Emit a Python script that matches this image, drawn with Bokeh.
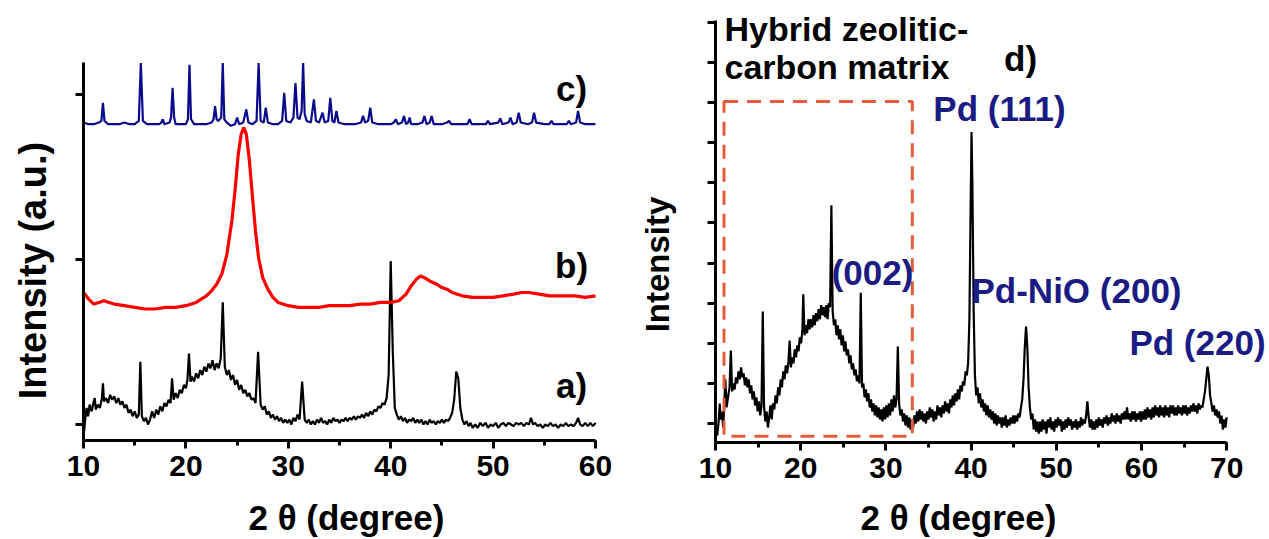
import math
from bokeh.plotting import figure
from bokeh.layouts import row
from bokeh.models import Range1d, Label, SingleIntervalTicker, FixedTicker, BoxAnnotation, LinearAxis
from bokeh.embed import file_html
from bokeh.resources import INLINE

FONT = "Liberation Sans"
NAVY = "#1B1B84"

# ---------------- data (2theta, intensity) ----------------
# left panel, curve a) (black)
curve_a = [
    (10.0, -0.08), (10.15, 0.02), (10.3, 0.10), (10.45, 0.05), (10.6, 0.12), (10.8, 0.08), (11.0, 0.14),
    (11.1, 0.16), (11.2, 0.09), (11.4, 0.12), (11.6, 0.10), (11.8, 0.16), (11.9, 0.25), (12.0, 0.14),
    (12.2, 0.16), (12.4, 0.13), (12.6, 0.18), (12.8, 0.15), (13.0, 0.17), (13.2, 0.13), (13.4, 0.16),
    (13.6, 0.12), (13.8, 0.14), (14.0, 0.10), (14.2, 0.12), (14.4, 0.07), (14.6, 0.09), (14.8, 0.05),
    (15.0, 0.08), (15.2, 0.04), (15.4, 0.06), (15.55, 0.38), (15.7, 0.05), (15.9, 0.02), (16.1, 0.04),
    (16.3, 0.00), (16.5, 0.03), (16.7, 0.08), (16.9, 0.04), (17.1, 0.09), (17.3, 0.06), (17.5, 0.11),
    (17.7, 0.08), (17.9, 0.13), (18.1, 0.11), (18.3, 0.15), (18.5, 0.13), (18.65, 0.28), (18.8, 0.15),
    (19.0, 0.19), (19.2, 0.16), (19.4, 0.21), (19.6, 0.19), (19.8, 0.24), (20.0, 0.22), (20.15, 0.27),
    (20.3, 0.43), (20.45, 0.26), (20.6, 0.29), (20.8, 0.26), (21.0, 0.31), (21.2, 0.28), (21.4, 0.33),
    (21.6, 0.30), (21.8, 0.35), (22.0, 0.32), (22.2, 0.37), (22.4, 0.34), (22.6, 0.39), (22.8, 0.33),
    (23.0, 0.37), (23.2, 0.34), (23.4, 0.40), (23.6, 0.74), (23.8, 0.35), (24.0, 0.30), (24.2, 0.33),
    (24.4, 0.27), (24.6, 0.30), (24.8, 0.24), (25.0, 0.27), (25.2, 0.21), (25.4, 0.24), (25.6, 0.19),
    (25.8, 0.21), (26.0, 0.17), (26.2, 0.19), (26.4, 0.15), (26.6, 0.16), (26.8, 0.13), (27.05, 0.44),
    (27.3, 0.12), (27.5, 0.09), (27.7, 0.11), (27.9, 0.06), (28.1, 0.08), (28.3, 0.04), (28.5, 0.06),
    (28.7, 0.03), (28.9, 0.05), (29.1, 0.02), (29.3, 0.04), (29.5, 0.01), (29.7, 0.03), (29.9, 0.01),
    (30.1, 0.03), (30.3, 0.00), (30.5, 0.04), (30.7, 0.02), (30.9, 0.06), (31.1, 0.03), (31.35, 0.26),
    (31.6, 0.03), (31.8, 0.01), (32.0, 0.03), (32.2, 0.00), (32.4, 0.02), (32.6, 0.00), (32.8, 0.03),
    (33.0, 0.01), (33.2, 0.04), (33.4, 0.01), (33.6, 0.02), (33.8, 0.00), (34.0, 0.03), (34.2, 0.01),
    (34.4, 0.04), (34.6, 0.02), (34.8, 0.03), (35.0, 0.01), (35.2, 0.03), (35.4, 0.02), (35.6, 0.04),
    (35.8, 0.02), (36.0, 0.04), (36.2, 0.03), (36.4, 0.05), (36.6, 0.03), (36.8, 0.05), (37.0, 0.04),
    (37.2, 0.06), (37.4, 0.04), (37.6, 0.07), (37.8, 0.05), (38.0, 0.08), (38.2, 0.06), (38.4, 0.09),
    (38.6, 0.08), (38.8, 0.11), (39.0, 0.10), (39.2, 0.13), (39.4, 0.12), (39.6, 0.16), (39.8, 0.30),
    (40.0, 0.99), (40.2, 0.45), (40.4, 0.10), (40.6, 0.06), (40.8, 0.03), (41.0, 0.05), (41.2, 0.02),
    (41.4, 0.04), (41.6, 0.01), (41.8, 0.03), (42.0, 0.02), (42.2, 0.04), (42.4, 0.01), (42.6, 0.03),
    (42.8, 0.01), (43.0, 0.03), (43.2, 0.00), (43.4, 0.02), (43.6, 0.00), (43.8, 0.03), (44.0, 0.01),
    (44.2, 0.02), (44.4, 0.00), (44.6, 0.02), (44.8, 0.01), (45.0, 0.03), (45.2, 0.01), (45.4, 0.03),
    (45.6, 0.02), (45.8, 0.04), (46.0, 0.07), (46.2, 0.15), (46.4, 0.32), (46.6, 0.28), (46.8, 0.10),
    (47.0, 0.03), (47.2, 0.00), (47.4, 0.02), (47.6, -0.01), (47.8, 0.01), (48.0, -0.02), (48.25, 0.00),
    (48.5, -0.02), (48.75, 0.01), (49.0, -0.01), (49.25, 0.01), (49.5, -0.02), (49.75, 0.00), (50.0, -0.01),
    (50.25, 0.01), (50.5, -0.02), (50.75, 0.00), (51.0, 0.01), (51.25, -0.01), (51.5, 0.01), (51.75, 0.00),
    (52.0, -0.01), (52.25, 0.01), (52.5, 0.00), (52.75, 0.01), (53.0, -0.01), (53.25, 0.01), (53.5, 0.00),
    (53.7, 0.04), (53.9, 0.00), (54.1, 0.01), (54.35, -0.01), (54.6, 0.00), (54.85, -0.02), (55.1, 0.00),
    (55.35, -0.01), (55.6, 0.01), (55.85, -0.01), (56.1, 0.00), (56.35, -0.02), (56.6, 0.00), (56.85, -0.01),
    (57.1, 0.01), (57.35, -0.01), (57.6, 0.00), (57.85, -0.01), (58.1, 0.01), (58.3, 0.04), (58.5, 0.00),
    (58.75, -0.01), (59.0, 0.01), (59.25, -0.01), (59.5, 0.01), (59.75, -0.01), (60.0, 0.01),
]

# left panel, curve b) (red)
curve_b = [
    (10.0, 0.80), (10.5, 0.76), (11.0, 0.73), (11.5, 0.74), (12.0, 0.75), (12.5, 0.74), (13.0, 0.73),
    (14.0, 0.72), (15.0, 0.71), (16.0, 0.70), (17.0, 0.70), (18.0, 0.71), (19.0, 0.71), (20.0, 0.72),
    (21.0, 0.74), (22.0, 0.78), (22.5, 0.81), (23.0, 0.85), (23.5, 0.91), (24.0, 1.03), (24.5, 1.24),
    (24.8, 1.42), (25.1, 1.63), (25.4, 1.76), (25.65, 1.80), (25.9, 1.76), (26.2, 1.60), (26.5, 1.38),
    (26.8, 1.17), (27.1, 1.01), (27.5, 0.89), (28.0, 0.82), (28.5, 0.77), (29.0, 0.74), (30.0, 0.72),
    (31.0, 0.71), (32.0, 0.71), (33.0, 0.71), (34.0, 0.72), (35.0, 0.72), (36.0, 0.72), (37.0, 0.73),
    (38.0, 0.73), (39.0, 0.74), (40.0, 0.74), (40.8, 0.75), (41.5, 0.79), (42.0, 0.84), (42.5, 0.88),
    (42.9, 0.90), (43.3, 0.89), (43.8, 0.87), (44.5, 0.85), (45.0, 0.83), (45.5, 0.82), (46.0, 0.80),
    (46.5, 0.79), (47.0, 0.78), (48.0, 0.77), (49.0, 0.77), (50.0, 0.77), (51.0, 0.78), (52.0, 0.79),
    (52.8, 0.80), (53.5, 0.80), (54.5, 0.79), (55.5, 0.78), (57.0, 0.78), (58.0, 0.78), (59.0, 0.77),
    (60.0, 0.78),
]

# left panel, curve c) (blue)
curve_c = [
    (10.0, 1.83), (10.5, 1.82), (11.0, 1.82), (11.5, 1.83), (11.75, 1.84), (11.9, 1.95), (12.05, 1.84),
    (12.4, 1.82), (13.0, 1.82), (13.5, 1.82), (14.0, 1.83), (14.5, 1.82), (15.0, 1.82), (15.4, 1.84),
    (15.6, 2.19), (15.8, 1.84), (16.2, 1.82), (16.8, 1.82), (17.4, 1.82), (17.6, 1.83), (17.75, 1.85),
    (17.9, 1.82), (18.4, 1.83), (18.55, 1.86), (18.7, 2.04), (18.85, 1.86), (19.0, 1.82), (19.5, 1.82),
    (20.0, 1.82), (20.2, 1.85), (20.35, 2.18), (20.5, 1.85), (20.8, 1.82), (21.4, 1.82), (22.0, 1.82),
    (22.5, 1.83), (22.7, 1.85), (22.85, 1.93), (23.0, 1.85), (23.15, 1.84), (23.45, 1.86), (23.6, 2.19),
    (23.75, 1.85), (24.0, 1.83), (24.4, 1.81), (24.8, 1.82), (25.0, 1.86), (25.2, 1.82), (25.6, 1.83),
    (25.9, 1.91), (26.1, 1.83), (26.5, 1.82), (26.9, 1.84), (27.1, 2.19), (27.3, 1.84), (27.6, 1.83),
    (27.8, 1.92), (28.0, 1.83), (28.5, 1.82), (29.0, 1.82), (29.4, 1.84), (29.6, 2.01), (29.8, 1.84),
    (30.2, 1.83), (30.5, 1.86), (30.7, 2.07), (30.9, 1.86), (31.1, 1.85), (31.3, 1.90), (31.45, 2.19),
    (31.6, 1.88), (31.8, 1.84), (32.2, 1.83), (32.5, 1.97), (32.7, 1.84), (33.0, 1.83), (33.35, 1.89),
    (33.55, 1.83), (33.9, 1.84), (34.1, 1.98), (34.3, 1.84), (34.5, 1.83), (34.7, 1.90), (34.9, 1.83),
    (35.5, 1.82), (36.0, 1.82), (36.5, 1.82), (37.1, 1.83), (37.3, 1.87), (37.5, 1.83), (37.8, 1.84),
    (38.0, 1.92), (38.2, 1.83), (38.8, 1.82), (39.4, 1.82), (40.0, 1.82), (40.3, 1.83), (40.5, 1.85),
    (40.7, 1.82), (41.1, 1.83), (41.3, 1.87), (41.5, 1.82), (41.7, 1.83), (41.85, 1.86), (42.0, 1.82),
    (42.6, 1.82), (43.1, 1.83), (43.3, 1.87), (43.5, 1.82), (43.8, 1.83), (44.0, 1.87), (44.2, 1.82),
    (45.0, 1.82), (45.5, 1.83), (45.7, 1.84), (45.9, 1.82), (46.8, 1.82), (47.5, 1.82), (47.7, 1.85),
    (47.9, 1.82), (48.8, 1.82), (49.3, 1.82), (49.5, 1.84), (49.7, 1.82), (50.5, 1.83), (50.7, 1.855),
    (50.9, 1.82), (51.5, 1.83), (51.7, 1.86), (51.9, 1.82), (52.3, 1.83), (52.5, 1.89), (52.7, 1.83),
    (53.4, 1.82), (53.8, 1.83), (54.0, 1.89), (54.2, 1.83), (55.0, 1.82), (55.5, 1.82), (55.7, 1.84),
    (55.9, 1.82), (56.6, 1.82), (57.2, 1.82), (57.4, 1.84), (57.6, 1.82), (58.1, 1.83), (58.3, 1.90),
    (58.5, 1.83), (59.0, 1.82), (59.5, 1.82), (60.0, 1.82),
]

# right panel, curve d) (black)
curve_d = [
    (10.2, -0.3), (10.35, 0.0), (10.5, 0.5), (10.6, 0.1), (10.75, 0.3), (10.9, -0.1), (11.05, 0.6),
    (11.15, 1.1), (11.3, 0.4), (11.5, 0.7), (11.65, 0.9), (11.8, 1.82), (11.95, 0.8), (12.1, 1.0),
    (12.25, 0.85), (12.4, 1.15), (12.55, 1.0), (12.7, 1.3), (12.85, 1.1), (13.0, 1.4), (13.15, 1.15),
    (13.3, 1.25), (13.45, 0.95), (13.6, 1.15), (13.75, 0.9), (13.9, 1.1), (14.05, 0.75), (14.2, 0.95),
    (14.35, 0.6), (14.5, 0.8), (14.65, 0.45), (14.8, 0.65), (14.95, 0.3), (15.1, 0.55), (15.25, 0.2),
    (15.4, 0.45), (15.55, 2.79), (15.7, 0.4), (15.85, 0.05), (16.0, 0.3), (16.15, -0.1), (16.3, 0.15),
    (16.45, 0.45), (16.6, 0.1), (16.75, 0.5), (16.9, 0.35), (17.05, 0.7), (17.2, 0.5), (17.35, 0.9),
    (17.5, 0.7), (17.65, 1.1), (17.8, 0.9), (17.95, 1.3), (18.1, 1.1), (18.25, 1.45), (18.4, 1.25),
    (18.55, 1.5), (18.7, 2.07), (18.85, 1.4), (19.0, 1.65), (19.15, 1.5), (19.3, 1.85), (19.45, 1.65),
    (19.6, 1.95), (19.75, 1.8), (19.9, 2.15), (20.05, 2.0), (20.2, 2.35), (20.3, 3.22), (20.45, 2.2),
    (20.6, 2.45), (20.75, 2.25), (20.9, 2.6), (21.05, 2.35), (21.2, 2.6), (21.35, 2.4), (21.5, 2.7),
    (21.65, 2.45), (21.8, 2.75), (21.95, 2.55), (22.1, 2.85), (22.25, 2.6), (22.4, 2.95), (22.55, 2.7),
    (22.7, 2.9), (22.85, 2.65), (23.0, 2.95), (23.15, 2.6), (23.3, 3.0), (23.45, 2.9), (23.6, 5.44),
    (23.75, 2.8), (23.9, 2.45), (24.05, 2.6), (24.2, 2.2), (24.35, 2.45), (24.5, 2.1), (24.65, 2.35),
    (24.8, 1.95), (24.95, 2.2), (25.1, 1.8), (25.25, 2.05), (25.4, 1.7), (25.55, 1.85), (25.7, 1.5),
    (25.85, 1.7), (26.0, 1.35), (26.15, 1.5), (26.3, 1.2), (26.45, 1.35), (26.6, 1.05), (26.75, 1.2),
    (26.9, 1.0), (27.05, 3.26), (27.2, 0.9), (27.35, 1.0), (27.5, 0.65), (27.65, 0.85), (27.8, 0.55),
    (27.95, 0.75), (28.1, 0.4), (28.25, 0.6), (28.4, 0.3), (28.55, 0.5), (28.7, 0.2), (28.85, 0.45),
    (29.0, 0.15), (29.15, 0.4), (29.3, 0.1), (29.45, 0.35), (29.6, 0.05), (29.75, 0.4), (29.9, 0.1),
    (30.05, 0.45), (30.2, 0.15), (30.35, 0.5), (30.5, 0.2), (30.65, 0.6), (30.8, 0.3), (30.95, 0.7),
    (31.1, 0.4), (31.25, 0.6), (31.4, 1.92), (31.55, 0.5), (31.7, 0.2), (31.85, 0.35), (32.0, 0.05),
    (32.15, 0.25), (32.3, -0.05), (32.45, 0.2), (32.6, -0.1), (32.75, 0.15), (32.9, -0.15), (33.05, 0.1),
    (33.2, -0.1), (33.35, 0.2), (33.5, 0.0), (33.65, 0.3), (33.8, 0.05), (33.95, 0.35), (34.1, 0.1),
    (34.25, 0.3), (34.4, 0.05), (34.55, 0.25), (34.7, 0.0), (34.85, 0.3), (35.0, 0.1), (35.15, 0.4),
    (35.3, 0.15), (35.45, 0.35), (35.6, 0.05), (35.75, 0.3), (35.9, 0.1), (36.05, 0.45), (36.2, 0.2),
    (36.35, 0.4), (36.5, 0.15), (36.65, 0.45), (36.8, 0.25), (36.95, 0.55), (37.1, 0.3), (37.25, 0.5),
    (37.4, 0.25), (37.55, 0.6), (37.7, 0.4), (37.85, 0.7), (38.0, 0.45), (38.15, 0.75), (38.3, 0.55),
    (38.45, 0.85), (38.6, 0.6), (38.75, 0.95), (38.9, 0.8), (39.05, 1.05), (39.2, 0.95), (39.35, 1.3),
    (39.5, 1.2), (39.65, 1.5), (39.8, 2.6), (39.95, 5.5), (40.05, 7.27), (40.15, 6.0), (40.3, 2.8),
    (40.45, 1.2), (40.6, 0.7), (40.75, 0.9), (40.9, 0.5), (41.05, 0.75), (41.2, 0.4), (41.35, 0.6),
    (41.5, 0.3), (41.65, 0.5), (41.8, 0.2), (41.95, 0.45), (42.1, 0.15), (42.25, 0.35), (42.4, 0.1),
    (42.55, 0.3), (42.7, 0.0), (42.85, 0.25), (43.0, -0.05), (43.15, 0.2), (43.3, 0.0), (43.45, 0.15),
    (43.6, -0.1), (43.75, 0.15), (43.9, -0.05), (44.05, 0.2), (44.2, -0.1), (44.35, 0.1), (44.5, -0.05),
    (44.65, 0.15), (44.8, 0.0), (44.95, 0.2), (45.1, 0.0), (45.25, 0.2), (45.4, 0.05), (45.55, 0.25),
    (45.7, 0.15), (45.85, 0.4), (46.0, 0.6), (46.15, 1.1), (46.3, 1.9), (46.45, 2.42), (46.6, 1.9),
    (46.75, 0.9), (46.9, 0.4), (47.05, 0.1), (47.2, 0.25), (47.35, -0.15), (47.5, 0.1), (47.65, -0.2),
    (47.8, 0.05), (47.95, -0.25), (48.1, 0.05), (48.25, -0.2), (48.4, 0.1), (48.55, -0.15), (48.7, 0.05),
    (48.85, -0.25), (49.0, 0.1), (49.15, -0.1), (49.3, 0.15), (49.45, -0.15), (49.6, 0.05), (49.75, -0.2),
    (49.9, 0.1), (50.05, -0.1), (50.2, 0.15), (50.35, -0.05), (50.5, 0.1), (50.65, -0.2), (50.8, 0.05),
    (50.95, -0.15), (51.1, 0.1), (51.25, -0.1), (51.4, 0.15), (51.55, -0.05), (51.7, 0.1), (51.85, -0.15),
    (52.0, 0.05), (52.15, -0.1), (52.3, 0.1), (52.45, -0.15), (52.6, 0.05), (52.75, -0.1), (52.9, 0.15),
    (53.05, -0.05), (53.2, 0.1), (53.35, 0.0), (53.5, 0.2), (53.65, 0.55), (53.8, 0.15), (53.95, -0.1),
    (54.1, 0.1), (54.25, -0.15), (54.4, 0.05), (54.55, -0.15), (54.7, 0.1), (54.85, -0.1), (55.0, 0.15),
    (55.15, -0.05), (55.3, 0.1), (55.45, -0.1), (55.6, 0.15), (55.75, 0.0), (55.9, 0.2), (56.05, -0.05),
    (56.2, 0.15), (56.35, 0.0), (56.5, 0.25), (56.65, 0.05), (56.8, 0.2), (56.95, 0.0), (57.1, 0.25),
    (57.25, 0.05), (57.4, 0.2), (57.55, 0.0), (57.7, 0.25), (57.85, 0.1), (58.0, 0.3), (58.15, 0.1),
    (58.3, 0.4), (58.45, 0.1), (58.6, 0.25), (58.75, 0.05), (58.9, 0.3), (59.05, 0.1), (59.2, 0.3),
    (59.35, 0.05), (59.5, 0.25), (59.65, 0.1), (59.8, 0.3), (59.95, 0.05), (60.1, 0.3), (60.25, 0.1),
    (60.4, 0.35), (60.55, 0.1), (60.7, 0.4), (60.85, 0.15), (61.0, 0.35), (61.15, 0.1), (61.3, 0.4),
    (61.45, 0.15), (61.6, 0.45), (61.75, 0.2), (61.9, 0.4), (62.05, 0.15), (62.2, 0.45), (62.35, 0.2),
    (62.5, 0.4), (62.65, 0.15), (62.8, 0.45), (62.95, 0.2), (63.1, 0.4), (63.25, 0.15), (63.4, 0.45),
    (63.55, 0.25), (63.7, 0.45), (63.85, 0.2), (64.0, 0.4), (64.15, 0.2), (64.3, 0.45), (64.45, 0.25),
    (64.6, 0.4), (64.75, 0.2), (64.9, 0.45), (65.05, 0.25), (65.2, 0.45), (65.35, 0.2), (65.5, 0.4),
    (65.65, 0.25), (65.8, 0.45), (65.95, 0.3), (66.1, 0.5), (66.25, 0.3), (66.4, 0.45), (66.55, 0.25),
    (66.7, 0.5), (66.85, 0.35), (67.0, 0.45), (67.15, 0.4), (67.3, 0.6), (67.45, 0.8), (67.6, 1.1),
    (67.75, 1.42), (67.9, 1.2), (68.05, 0.7), (68.2, 0.5), (68.35, 0.3), (68.5, 0.45), (68.65, 0.2),
    (68.8, 0.35), (68.95, 0.15), (69.1, 0.3), (69.25, 0.0), (69.4, 0.2), (69.55, -0.15), (69.7, 0.1),
    (69.85, -0.1), (70.0, 0.15),
]

left_curve_labels = ["a)", "b)", "c)"]
left_label_pos = [(57.66, 0.236), (57.66, 0.964), (57.66, 2.036)]
right_peak_labels = ["Pd (111)", "(002)", "Pd-NiO (200)", "Pd (220)"]
right_peak_pos = [(43.33, 7.86), (28.43, 3.77), (52.37, 3.32), (66.57, 2.02)]
matrix_box = dict(left=11.0, right=33.1, bottom=-0.32, top=8.03)

# axis extents (data units) of the two panels
left_x_span, left_y_span = (10, 60), (-0.097, 2.194)
right_x_span, right_y_span = (10, 70), (-0.474, 10.05)


def xs(c):
    return [p[0] for p in c]


def ys(c):
    return [p[1] for p in c]


def add_axes(p, x_span, y_span, y_ticks):
    xa = LinearAxis(fixed_location=y_span[0], bounds=x_span,
                    ticker=SingleIntervalTicker(interval=10, num_minor_ticks=2))
    ya = LinearAxis(fixed_location=x_span[0], bounds=y_span,
                    ticker=FixedTicker(ticks=[], minor_ticks=y_ticks))
    for ax in (xa, ya):
        ax.axis_line_width = 3
        ax.axis_line_color = "black"
        ax.major_tick_line_width = 3
        ax.minor_tick_line_width = 3
        ax.major_tick_in = 0
        ax.major_tick_out = 8
        ax.minor_tick_in = 0
        ax.major_tick_line_color = "black"
        ax.minor_tick_line_color = "black"
    xa.minor_tick_out = 5
    ya.minor_tick_out = 8
    xa.major_label_text_font = FONT
    xa.major_label_text_font_size = "30px"
    xa.major_label_text_font_style = "bold"
    xa.major_label_text_color = "black"
    xa.major_label_standoff = 7
    p.add_layout(xa, "below")
    p.add_layout(ya, "left")


def text(p, x, y, s, size, color="black", align="center", baseline="middle", angle=0.0):
    p.add_layout(Label(x=x, y=y, text=s, text_font=FONT, text_font_size=size,
                       text_font_style="bold", text_color=color, text_align=align,
                       text_baseline=baseline, angle=angle))


def make_fig(width, xr, yr):
    p = figure(width=width, height=539, output_backend="svg", toolbar_location=None,
               x_range=Range1d(*xr), y_range=Range1d(*yr), title=None,
               x_axis_location=None, y_axis_location=None, min_border=0)
    p.outline_line_color = None
    p.grid.visible = False
    return p


# ---------------- left panel (whole figure is the data frame) ----------------
p1 = make_fig(628, (1.8945, 63.223), (-0.69697, 2.5697))
add_axes(p1, left_x_span, left_y_span, [0, 1, 2])

p1.line(xs(curve_a), ys(curve_a), line_color="black", line_width=2.2)
p1.line(xs(curve_b), ys(curve_b), line_color="#FF0000", line_width=3.2)
p1.line(xs(curve_c), ys(curve_c), line_color="#0A0A8C", line_width=2.2)

for s, (x, y) in zip(left_curve_labels, left_label_pos):
    text(p1, x, y, s, "35px")
text(p1, 35.68, -0.5636, "2 \u03b8 (degree)", "35px")
text(p1, 5.117, 0.933, "Intensity (a.u.)", "38px", angle=math.pi / 2)

# ---------------- right panel ----------------
p2 = make_fig(641, (-0.2113, 75.023), (-2.8928, 10.5486))
add_axes(p2, right_x_span, right_y_span, list(range(11)))

p2.add_layout(BoxAnnotation(left=matrix_box["left"], right=matrix_box["right"],
                            bottom=matrix_box["bottom"], top=matrix_box["top"],
                            fill_alpha=0, line_color="#E55B3C", line_alpha=1.0, line_width=3,
                            line_dash="14 9"))
p2.line(xs(curve_d), ys(curve_d), line_color="black", line_width=2.2)

for s, (x, y) in zip(right_peak_labels, right_peak_pos):
    text(p2, x, y, s, "35px", color=NAVY)
text(p2, 11.06, 9.85, "Hybrid zeolitic-", "34px", align="left")
text(p2, 11.06, 8.90, "carbon matrix", "34px", align="left")
text(p2, 45.8, 9.10, "d)", "35px")
text(p2, 38.52, -2.344, "2 \u03b8 (degree)", "35px")
text(p2, 3.192, 3.965, "Intensity", "33px", angle=math.pi / 2)

layout = row(p1, p2)
open("out.html", "w").write(file_html(layout, INLINE))
